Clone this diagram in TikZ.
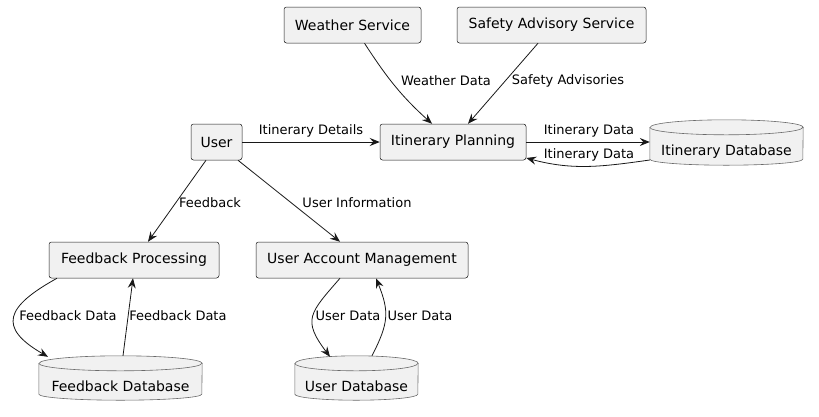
\documentclass[tikz,border=0pt]{standalone}
\usepackage{fontspec}
\setmainfont{DejaVu Sans}
\usetikzlibrary{arrows.meta,calc}
\definecolor{boxfill}{HTML}{F1F1F1}
\definecolor{ink}{HTML}{181818}
\definecolor{dbink}{HTML}{6A6A6A}
\newcommand{\mydbcyl}[2]{%
  \draw[dbline] ([yshift=-7.5pt]#1.north west) -- ([yshift=6pt]#1.south west)
    arc[start angle=180,end angle=360,x radius=#2,y radius=6pt]
    -- ([yshift=-7.5pt]#1.north east)
    arc[start angle=0,end angle=180,x radius=#2,y radius=7.5pt] -- cycle;
  \draw[dbline,fill=none] ([yshift=-7.5pt]#1.north west)
    arc[start angle=180,end angle=360,x radius=#2,y radius=7.5pt];}
\tikzset{
  x=1pt,y=1pt,
  proc/.style={draw=ink,fill=boxfill,line width=0.5pt,rounded corners=2.5pt,
    minimum height=36pt,inner sep=0pt,font=\fontsize{14}{16}\selectfont},
  dbbox/.style={draw=none,inner sep=0pt},
  dbline/.style={draw=dbink,fill=boxfill,line width=0.6pt},
  dbtext/.style={inner sep=0pt,font=\fontsize{14}{16}\selectfont},
  flow/.style={draw=ink,line width=0.8pt,-{Stealth[length=10pt,width=8pt,inset=3.5pt]}},
  lbl/.style={inner sep=0pt,font=\fontsize{13}{15}\selectfont},
}
\begin{document}
\begin{tikzpicture}
\useasboundingbox (0,0) rectangle (819,-416);
% process boxes
\node[proc,minimum width=137pt] (ws) at (352.5,-25) {Weather Service};
\node[proc,minimum width=189pt] (sas) at (551.5,-25) {Safety Advisory Service};
\node[proc,minimum width=51pt] (user) at (216.5,-142) {User};
\node[proc,minimum width=146pt] (ip) at (453,-142) {Itinerary Planning};
\node[proc,minimum width=170pt] (fp) at (134,-260) {Feedback Processing};
\node[proc,minimum width=212pt] (uam) at (362,-260) {User Account Management};
% databases
\node[dbbox,minimum width=153pt,minimum height=45pt] (itdb) at (726.5,-142.5) {};
\mydbcyl{itdb}{76.5pt}
\node[dbtext] (itdbt) at ([yshift=-9.5pt]itdb.center) {Itinerary Database};
\node[dbbox,minimum width=163pt,minimum height=44pt] (fdb) at (120.5,-378) {};
\mydbcyl{fdb}{81.5pt}
\node[dbtext] (fdbt) at ([yshift=-8pt]fdb.center) {Feedback Database};
\node[dbbox,minimum width=123pt,minimum height=44pt] (udb) at (356.5,-378) {};
\mydbcyl{udb}{61.5pt}
\node[dbtext] (udbt) at ([yshift=-8pt]udb.center) {User Database};
% connectors
\draw[flow] ([xshift=12pt]ws.south) to[out=-57,in=138] ([xshift=-21pt]ip.north);
\node[lbl] (l1) at (446,-81) {Weather Data};
\draw[flow] ([xshift=-13.5pt]sas.south) -- ([xshift=15pt]ip.north);
\node[lbl] (l2) at (568,-81) {Safety Advisories};
\draw[flow] (user.east) -- (ip.west);
\node[lbl] (l3) at (311,-131) {Itinerary Details};
\draw[flow] (ip.east) -- ([yshift=0.5pt]itdb.west);
\node[lbl] (l4) at (589,-131) {Itinerary Data};
\draw[flow] ([yshift=-17.5pt]itdb.west) to[out=188,in=-15] ([yshift=-16pt]ip.east);
\node[lbl] (l5) at (589,-155) {Itinerary Data};
\draw[flow] ([xshift=-10.5pt]user.south) -- ([xshift=14pt]fp.north);
\node[lbl] (l6) at (210,-203) {Feedback};
\draw[flow] ([xshift=21.5pt]user.south) -- ([xshift=-22pt]uam.north);
\node[lbl] (l7) at (357,-203) {User Information};
\draw[flow] ([xshift=-77pt]fp.south) to[out=209,in=150,looseness=1.9] ([xshift=-72.5pt,yshift=-1pt]fdb.north);
\node[lbl] (l8) at (68,-316) {Feedback Data};
\draw[flow] ([xshift=2.5pt]fdb.north) -- ([xshift=-1pt]fp.south);
\node[lbl] (l9) at (178,-316) {Feedback Data};
\draw[flow] ([xshift=-22pt]uam.south) to[out=229,in=127,looseness=1.5] ([xshift=-26.5pt,yshift=-1pt]udb.north);
\node[lbl] (l10) at (348,-316) {User Data};
\draw[flow] ([xshift=15.5pt]udb.north) to[out=63,in=-68,looseness=1.2] ([xshift=14pt]uam.south);
\node[lbl] (l11) at (420,-316) {User Data};
\end{tikzpicture}
\end{document}
